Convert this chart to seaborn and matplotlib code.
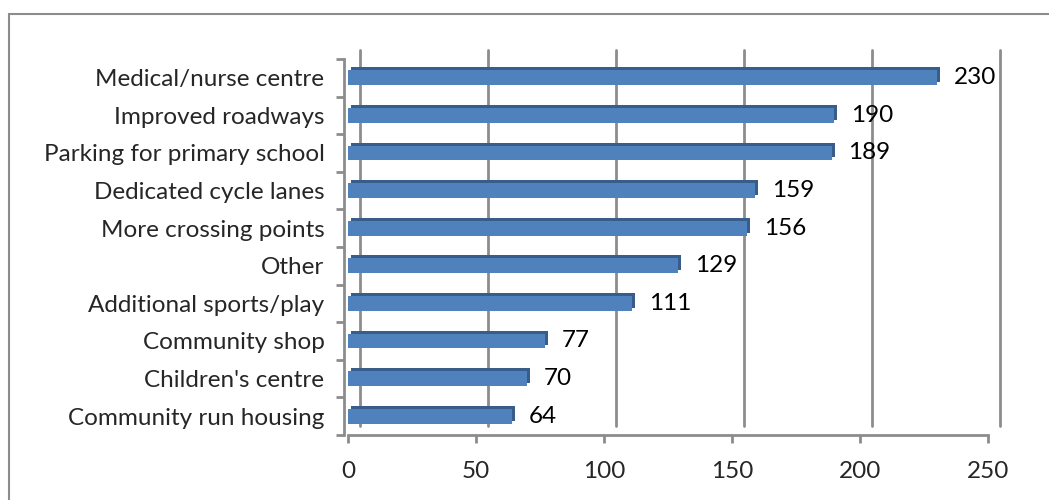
import matplotlib.pyplot as plt
import matplotlib.transforms as mtransforms
from matplotlib.patches import Rectangle
import seaborn as sns
import pandas as pd

categories = ["Medical/nurse centre", "Improved roadways", "Parking for primary school",
              "Dedicated cycle lanes", "More crossing points", "Other",
              "Additional sports/play", "Community shop", "Children's centre",
              "Community run housing"]
counts = [230, 190, 189, 159, 156, 129, 111, 77, 70, 64]
xticks = [0, 50, 100, 150, 200, 250]

df = pd.DataFrame({"category": categories, "count": counts})

sns.set_style("white")
plt.rcParams['font.family'] = ['Lato', 'DejaVu Sans']

fig = plt.figure(figsize=(10.49, 5.0), dpi=100)
ax = fig.add_axes([348 / 1049, 1 - 435 / 500, 640 / 1049, 376 / 500])

grid_col = "#8c8c8c"
dx, dy = 12, 9  # depth offset of the back wall, in pixels
back = mtransforms.offset_copy(ax.transData, fig=fig, x=dx, y=dy, units='dots')
n = len(categories)
ylo, yhi = n - 0.5, -0.5

# back wall gridlines + floor diagonals
for t in xticks:
    ax.plot([t, t], [ylo, yhi], color=grid_col, lw=2, transform=back, clip_on=False, zorder=0.5)
    p0 = ax.transData.transform((t, ylo))
    p1 = back.transform((t, ylo))
    fig.add_artist(plt.Line2D([p0[0] / 1049, p1[0] / 1049], [p0[1] / 500, p1[1] / 500],
                              color=grid_col, lw=2, zorder=0.5))
# left wall diagonal at top
p0 = ax.transData.transform((0, yhi))
p1 = back.transform((0, yhi))
fig.add_artist(plt.Line2D([p0[0] / 1049 - 3 / 1049, p1[0] / 1049], [p0[1] / 500, p1[1] / 500],
                          color=grid_col, lw=2, zorder=0.5))

# depth (shadow) of bars
sns.barplot(data=df, x="count", y="category", color="#385D8A", width=0.39,
            saturation=1, ax=ax, linewidth=0)
shade = mtransforms.offset_copy(ax.transData, fig=fig, x=3, y=3, units='dots')
for p in ax.patches:
    p.set_transform(shade)
    p.set_zorder(2)
    p.set_edgecolor("none")
n_shadow = len(ax.patches)
sns.barplot(data=df, x="count", y="category", color="#4F81BD", width=0.39,
            saturation=1, ax=ax, linewidth=0)
for p in ax.patches[n_shadow:]:
    p.set_zorder(3)
    p.set_edgecolor("none")

for i, v in enumerate(counts):
    ax.text(v + 6.5, i, str(v), va='center', ha='left', fontsize=17.5, color='black', zorder=4)

ax.set_xlim(0, 250)
ax.set_ylim(ylo, yhi)
ax.set_xticks(xticks)
ax.set_xticklabels([str(t) for t in xticks])
ax.set_yticks(range(n))
ax.set_yticklabels(categories)
ax.set_xlabel("")
ax.set_ylabel("")
for s in ["top", "right"]:
    ax.spines[s].set_visible(False)
for s in ["left", "bottom"]:
    ax.spines[s].set_color(grid_col)
    ax.spines[s].set_linewidth(2)
ax.spines["left"].set_position(("outward", 3))
ax.tick_params(axis='x', length=6, width=2, color=grid_col, pad=13, direction='out',
               bottom=True, labelsize=17.5)
ax.tick_params(axis='y', which='major', length=0, pad=14, labelsize=17.5)
# category boundary ticks on the y axis
ax.set_yticks([i + 0.5 for i in range(-1, n)], minor=True)
ax.tick_params(axis='y', which='minor', length=6, width=2, color=grid_col, left=True)
ax.patch.set_alpha(0)

fig.add_artist(Rectangle((9 / 1049, -0.01), 1.1, (500 - 14) / 500 + 0.01,
                         fill=False, edgecolor="#8c8c8c", lw=1.5, transform=fig.transFigure))

fig.savefig("out.png", dpi=100)
